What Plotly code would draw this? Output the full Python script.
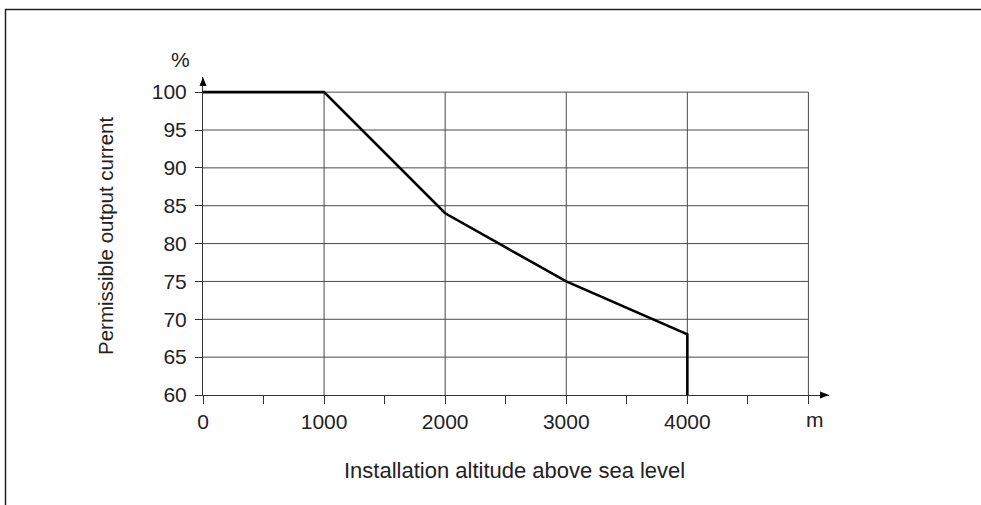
import plotly.graph_objects as go

# ---- data ----
altitude = [0, 1000, 2000, 3000, 4000, 4000]
current = [100, 100, 84, 75, 68, 60]
x_ticks = [0, 1000, 2000, 3000, 4000, 5000]
x_tick_labels = ["0", "1000", "2000", "3000", "4000", ""]
x_minor_ticks = [500, 1500, 2500, 3500, 4500]
y_ticks = [60, 65, 70, 75, 80, 85, 90, 95, 100]
y_tick_labels = [str(v) for v in y_ticks]
x_unit = "m"
y_unit = "%"
x_title = "Installation altitude above sea level"
y_title = "Permissible output current"

# ---- layout constants ----
W, H = 981, 505
L, R, T, B = 203, 152, 77, 110
PW, PH = W - L - R, H - T - B
FONT = "Liberation Sans, Arial, sans-serif"
TXT = "#222222"
GRID = "#4a4a4a"
AX = "#333333"
FS = 21


def paper(px, py):
    return (px - L) / PW, (H - B - py) / PH


fig = go.Figure()

# grid lines (within the 0..5000 / 60..100 region)
gx, gy = [], []
for v in y_ticks[1:]:
    gx += [x_ticks[0], x_ticks[-1], None]
    gy += [v, v, None]
for v in x_ticks[1:]:
    gx += [v, v, None]
    gy += [y_ticks[0], y_ticks[-1], None]
fig.add_trace(go.Scatter(x=gx, y=gy, mode="lines",
                         line=dict(color=GRID, width=1),
                         hoverinfo="skip", showlegend=False))

# derating curve
fig.add_trace(go.Scatter(x=altitude, y=current, mode="lines",
                         line=dict(color="#000000", width=2.6),
                         showlegend=False, cliponaxis=False))

fig.update_xaxes(range=[0, 5170], showgrid=False, zeroline=False,
                 showline=True, linecolor=AX, linewidth=1,
                 tickmode="array", tickvals=x_ticks, ticktext=x_tick_labels,
                 ticks="outside", ticklen=8, tickcolor=AX, tickwidth=1,
                 minor=dict(tickmode="array", tickvals=x_minor_ticks,
                            ticks="outside", ticklen=8, tickcolor=AX,
                            tickwidth=1, showgrid=False),
                 tickfont=dict(family=FONT, size=FS, color=TXT))
fig.update_yaxes(range=[60, 102], showgrid=False, zeroline=False,
                 showline=True, linecolor=AX, linewidth=1,
                 tickmode="array", tickvals=y_ticks, ticktext=y_tick_labels,
                 ticks="outside", ticklen=7, tickcolor=AX, tickwidth=1,
                 ticklabelstandoff=4,
                 tickfont=dict(family=FONT, size=FS, color=TXT))

# arrow heads
fig.add_shape(type="path", xref="paper", yref="paper",
              xsizemode="pixel", ysizemode="pixel", xanchor=1, yanchor=0,
              path="M 0,0 L -9,3.5 L -9,-3.5 Z",
              fillcolor="#000000", line=dict(width=0))
fig.add_shape(type="path", xref="paper", yref="paper",
              xsizemode="pixel", ysizemode="pixel", xanchor=0, yanchor=1,
              path="M 0,0 L -3.5,-9 L 3.5,-9 Z",
              fillcolor="#000000", line=dict(width=0))

# outer frame (top and left edges)
fx0, fy0 = paper(5.5, H + 2)
fx1, fy1 = paper(5.5, 9.5)
fx2, fy2 = paper(W + 2, 9.5)
fig.add_shape(type="path", xref="paper", yref="paper",
              path=f"M {fx0},{fy0} L {fx1},{fy1} L {fx2},{fy2}",
              line=dict(color="#222222", width=1.5))


def label(text, px, py, angle=0, size=FS):
    ax, ay = paper(px, py)
    fig.add_annotation(x=ax, y=ay, xref="paper", yref="paper", text=text,
                       showarrow=False, xanchor="center", yanchor="middle",
                       textangle=angle,
                       font=dict(family=FONT, size=size, color=TXT))


label(y_unit, 180, 59)
label(x_unit, 815, 419)
label(x_title, 514, 470, size=22)
label(y_title, 105, 236, -90, size=20.5)

fig.update_layout(width=W, height=H, margin=dict(l=L, r=R, t=T, b=B),
                  paper_bgcolor="white", plot_bgcolor="white",
                  showlegend=False)

fig.write_html("out.html",
               config={"displayModeBar": False},
               post_script="document.body.style.margin='0';"
                           "document.body.style.overflow='hidden';")
